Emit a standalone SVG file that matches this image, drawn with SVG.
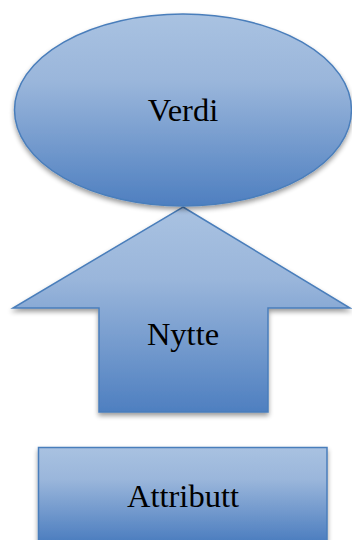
<svg xmlns="http://www.w3.org/2000/svg" width="352" height="540" viewBox="0 0 352 540">
  <defs>
    <linearGradient id="gEll" gradientUnits="objectBoundingBox" x1="0" y1="0" x2="0" y2="1">
      <stop offset="0" stop-color="#a9c2e1"/>
      <stop offset="0.35" stop-color="#9ab6db"/>
      <stop offset="1" stop-color="#4e7fc0"/>
    </linearGradient>
    <linearGradient id="gArrow" gradientUnits="objectBoundingBox" x1="0" y1="0" x2="0" y2="1">
      <stop offset="0" stop-color="#a9c2e1"/>
      <stop offset="0.35" stop-color="#9ab6db"/>
      <stop offset="1" stop-color="#4e7fc0"/>
    </linearGradient>
    <linearGradient id="gRect" gradientUnits="userSpaceOnUse" x1="0" y1="447" x2="0" y2="540">
      <stop offset="0" stop-color="#a9c2e1"/>
      <stop offset="0.35" stop-color="#9ab6db"/>
      <stop offset="1" stop-color="#4e7fc0"/>
    </linearGradient>
    <filter id="shadow" x="-10%" y="-10%" width="120%" height="125%">
      <feGaussianBlur in="SourceAlpha" stdDeviation="2.5"/>
      <feOffset dx="0" dy="3" result="b"/>
      <feComponentTransfer><feFuncA type="linear" slope="0.4"/></feComponentTransfer>
      <feMerge><feMergeNode/><feMergeNode in="SourceGraphic"/></feMerge>
    </filter>
  </defs>
  <style>
    .shape { stroke: #4a7ebb; stroke-width: 1.5; filter: url(#shadow); }
    .label { font-family: "Liberation Serif", "Times New Roman", serif; font-size: 32.5px; fill: #000; text-anchor: middle; }
  </style>
  <g id="connectors"></g>
  <g id="attributt">
    <rect class="shape" x="38.5" y="447.5" width="288.5" height="100" fill="url(#gRect)"/>
    <text class="label" x="183" y="507">Attributt</text>
  </g>
  <g id="nytte">
    <path class="shape" d="M183,207 L350,308 L268,308 L268,412 L99,412 L99,308 L13,308 Z" fill="url(#gArrow)"/>
    <text class="label" x="183" y="345">Nytte</text>
  </g>
  <g id="verdi">
    <ellipse class="shape" cx="183" cy="110" rx="168.5" ry="96" fill="url(#gEll)"/>
    <text class="label" x="183" y="121">Verdi</text>
  </g>
</svg>
